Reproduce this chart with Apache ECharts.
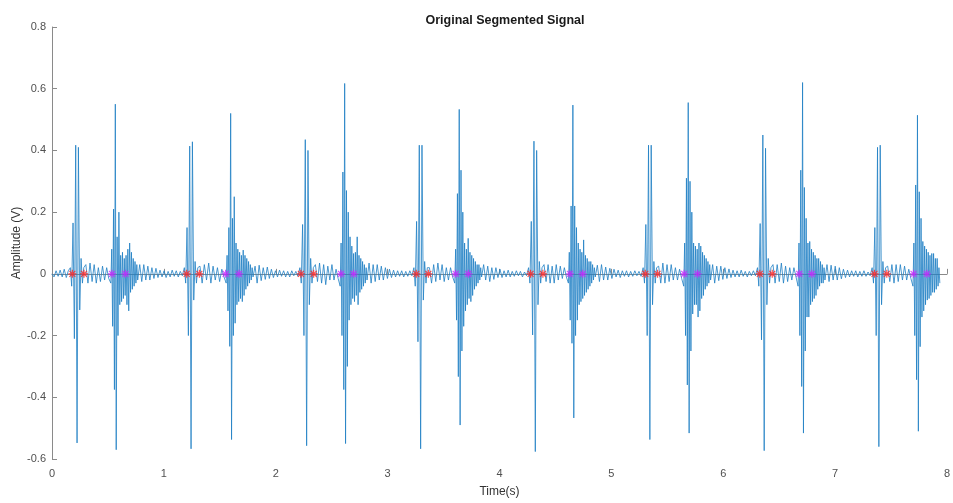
<!DOCTYPE html>
<html>
<head>
<meta charset="utf-8">
<title>Original Segmented Signal</title>
<script src="https://cdn.jsdelivr.net/npm/echarts@6/dist/echarts.min.js"></script>
<style>
  html, body { margin: 0; padding: 0; background: #fff; }
  #chart { width: 953px; height: 503px; }
</style>
</head>
<body>
<div id="chart"></div>
<script>
// sample spacing inside the heart sounds (s)
const s1Step = 0.012;
const s2Step = 0.008;

// start time of each S1 / S2 burst (s)
const s1Start = [0.164, 1.183, 2.216, 3.235, 4.260, 5.284, 6.306, 7.331];
const s2Start = [0.526, 1.557, 2.576, 3.600, 4.616, 5.647, 6.669, 7.696];

// S1 bursts, amplitude (V)
const s1Amp = [
  [0.02, -0.04, 0.165, -0.21, 0.417, -0.548, 0.41, -0.117, 0.05, -0.03, 0.02],
  [0.02, -0.03, 0.15, -0.2, 0.414, -0.567, 0.428, -0.085, 0.04, -0.03, 0.02],
  [0.02, -0.03, 0.16, -0.2, 0.435, -0.557, 0.40, -0.1, 0.05, -0.03, 0.02],
  [0.02, -0.04, 0.17, -0.22, 0.417, -0.567, 0.417, -0.085, 0.04, -0.03, 0.02],
  [0.02, -0.03, 0.17, -0.198, 0.43, -0.576, 0.40, -0.1, 0.04, -0.03, 0.02],
  [0.02, -0.03, 0.16, -0.2, 0.417, -0.537, 0.417, -0.1, 0.04, -0.03, 0.02],
  [0.02, -0.04, 0.163, -0.214, 0.45, -0.573, 0.407, -0.1, 0.05, -0.03, 0.02],
  [0.02, -0.03, 0.15, -0.2, 0.41, -0.56, 0.417, -0.1, 0.04, -0.03, 0.02]
];

// S2 bursts, amplitude (V)
const s2Amp = [
  [-0.03, 0.08, -0.17, 0.21, -0.375, 0.55, -0.57, 0.12, -0.2, 0.2, -0.1, 0.06, -0.09, 0.07, -0.08, 0.05, -0.07, 0.06, -0.1, 0.08, -0.12, 0.1, -0.06, 0.07, -0.05, 0.05, -0.04, 0.04, -0.03, 0.03, -0.02],
  [-0.03, 0.06, -0.12, 0.15, -0.235, 0.52, -0.537, 0.18, -0.2, 0.25, -0.16, 0.1, -0.1, 0.08, -0.09, 0.07, -0.08, 0.06, -0.09, 0.077, -0.07, 0.06, -0.05, 0.05, -0.04, 0.04, -0.03, 0.03, -0.02, 0.02, -0.01],
  [-0.04, 0.1, -0.2, 0.33, -0.375, 0.617, -0.55, 0.27, -0.3, 0.2, -0.15, 0.12, -0.1, 0.09, -0.08, 0.066, -0.09, 0.07, -0.07, 0.12, -0.1, 0.06, -0.06, 0.05, -0.05, 0.04, -0.04, 0.03, -0.03, 0.02, -0.02],
  [-0.03, 0.08, -0.15, 0.26, -0.333, 0.533, -0.49, 0.336, -0.25, 0.2, -0.17, 0.1, -0.12, 0.08, -0.1, 0.115, -0.08, 0.07, -0.09, 0.06, -0.07, 0.05, -0.05, 0.04, -0.04, 0.03, -0.03, 0.03, -0.02, 0.02, -0.01],
  [-0.03, 0.07, -0.15, 0.22, -0.225, 0.547, -0.467, 0.22, -0.2, 0.15, -0.15, 0.1, -0.1, 0.08, -0.09, 0.07, -0.08, 0.11, -0.07, 0.06, -0.06, 0.05, -0.05, 0.04, -0.04, 0.04, -0.03, 0.03, -0.02, 0.02, -0.01],
  [-0.04, 0.1, -0.2, 0.31, -0.36, 0.555, -0.516, 0.3, -0.25, 0.2, -0.13, 0.1, -0.1, 0.09, -0.1, 0.08, -0.14, 0.1, -0.12, 0.09, -0.08, 0.07, -0.07, 0.06, -0.05, 0.05, -0.04, 0.04, -0.03, 0.03, -0.02],
  [-0.04, 0.1, -0.2, 0.336, -0.365, 0.62, -0.516, 0.28, -0.25, 0.18, -0.14, 0.1, -0.14, 0.105, -0.1, 0.08, -0.09, 0.07, -0.08, 0.06, -0.07, 0.05, -0.05, 0.05, -0.04, 0.04, -0.03, 0.03, -0.03, 0.02, -0.02],
  [-0.04, 0.1, -0.2, 0.288, -0.343, 0.514, -0.51, 0.266, -0.236, 0.18, -0.14, 0.105, -0.12, 0.09, -0.1, 0.08, -0.085, 0.07, -0.08, 0.06, -0.07, 0.066, -0.06, 0.066, -0.06, 0.05, -0.05, 0.05, -0.04, 0.02, -0.03]
];

// background wiggle before the first S1, between S1 and S2, and between S2 and the next S1 (V)
const leadAmp = [0.0, -0.01, 0.01, -0.008, 0.012, -0.01, 0.015, -0.012, 0.01];
const sysAmp = [
  [0.03, -0.03, 0.035, -0.025, 0.03, -0.03, 0.02, -0.025, 0.025, -0.02, 0.02, -0.015],
  [0.025, -0.03, 0.03, -0.02, 0.035, -0.03, 0.025, -0.02, 0.02, -0.025, 0.015, -0.01],
  [0.03, -0.025, 0.035, -0.03, 0.03, -0.035, 0.025, -0.02, 0.03, -0.02, 0.015, -0.015],
  [0.02, -0.03, 0.03, -0.025, 0.035, -0.02, 0.03, -0.025, 0.02, -0.02, 0.02, -0.01],
  [0.03, -0.025, 0.03, -0.03, 0.025, -0.03, 0.03, -0.02, 0.025, -0.015, 0.02, -0.01],
  [0.025, -0.03, 0.035, -0.03, 0.03, -0.025, 0.03, -0.02, 0.02, -0.02, 0.015, -0.015],
  [0.03, -0.03, 0.03, -0.025, 0.035, -0.03, 0.025, -0.025, 0.02, -0.02, 0.02, -0.01],
  [0.025, -0.025, 0.03, -0.03, 0.03, -0.025, 0.03, -0.02, 0.025, -0.02, 0.015, -0.015]
];
const diaAmp = [
  [0.03, -0.025, 0.03, -0.02, 0.025, -0.02, 0.02, -0.015, 0.018, -0.012, 0.012, -0.01, 0.01, -0.012, 0.008, -0.01, 0.012, -0.008, 0.01, -0.01, 0.008, -0.006],
  [0.025, -0.03, 0.028, -0.022, 0.02, -0.018, 0.022, -0.015, 0.015, -0.012, 0.01, -0.01, 0.012, -0.008, 0.01, -0.01, 0.008, -0.01, 0.01, -0.006, 0.008, -0.008],
  [0.035, -0.03, 0.03, -0.025, 0.03, -0.02, 0.025, -0.02, 0.02, -0.015, 0.015, -0.012, 0.012, -0.01, 0.01, -0.008, 0.01, -0.01, 0.008, -0.008, 0.01, -0.006],
  [0.03, -0.02, 0.025, -0.025, 0.02, -0.018, 0.02, -0.012, 0.015, -0.012, 0.01, -0.01, 0.012, -0.01, 0.008, -0.008, 0.01, -0.006, 0.008, -0.01, 0.006, -0.006],
  [0.028, -0.025, 0.03, -0.02, 0.022, -0.02, 0.018, -0.015, 0.015, -0.01, 0.012, -0.012, 0.01, -0.008, 0.01, -0.01, 0.008, -0.008, 0.01, -0.006, 0.008, -0.008],
  [0.03, -0.03, 0.025, -0.022, 0.025, -0.018, 0.02, -0.015, 0.016, -0.012, 0.012, -0.01, 0.01, -0.01, 0.012, -0.008, 0.008, -0.01, 0.008, -0.006, 0.01, -0.006],
  [0.03, -0.025, 0.028, -0.02, 0.025, -0.02, 0.02, -0.016, 0.015, -0.012, 0.012, -0.01, 0.01, -0.008, 0.01, -0.01, 0.008, -0.008, 0.01, -0.008, 0.006, -0.006]
];

// segment boundaries found by the segmentation (s)
const s1Marks = [0.182, 0.286, 1.204, 1.317, 2.225, 2.339, 3.256, 3.364, 4.278, 4.388, 5.303, 5.413, 6.327, 6.438, 7.352, 7.462];
const s2Marks = [0.536, 0.656, 1.552, 1.671, 2.583, 2.696, 3.608, 3.721, 4.629, 4.743, 5.651, 5.770, 6.679, 6.792, 7.701, 7.820];

const xTicks = { min: 0, max: 8, step: 1 };
const yTicks = { min: -0.6, max: 0.8, step: 0.2 };

// ---- build the signal ----
function burst(vals, t0, dt) {
  return vals.map((v, i) => [t0 + i * dt, v]);
}
function fill(vals, t0, t1, withStart) {
  const n = withStart ? vals.length : vals.length + 1;
  const dt = (t1 - t0) / n;
  return vals.map((v, i) => [t0 + dt * (withStart ? i : i + 1), v]);
}

let signal = fill(leadAmp, 0, s1Start[0], true);
for (let c = 0; c < s1Start.length; c++) {
  const s1End = s1Start[c] + (s1Amp[c].length - 1) * s1Step;
  const s2End = s2Start[c] + (s2Amp[c].length - 1) * s2Step;
  signal = signal.concat(burst(s1Amp[c], s1Start[c], s1Step));
  signal = signal.concat(fill(sysAmp[c], s1End, s2Start[c]));
  signal = signal.concat(burst(s2Amp[c], s2Start[c], s2Step));
  if (c < diaAmp.length) signal = signal.concat(fill(diaAmp[c], s2End, s1Start[c + 1]));
}

// asterisk marker, like MATLAB's '*'
const star = 'path://M8.5,0h3v20h-3z M0,8.5h20v3h-20z M1.5,3.6l2.1,-2.1l14.9,14.9l-2.1,2.1z M16.4,1.5l2.1,2.1l-14.9,14.9l-2.1,-2.1z';
const font = 'Liberation Sans, Arial, sans-serif';

const chart = echarts.init(document.getElementById('chart'), null, { renderer: 'canvas' });
chart.setOption({
  animation: false,
  backgroundColor: '#fff',
  title: {
    text: 'Original Segmented Signal',
    left: 500,
    textAlign: 'center',
    top: 9,
    textStyle: { fontFamily: font, fontSize: 12.5, fontWeight: 'bold', color: '#1a1a1a' }
  },
  grid: { left: 52, right: 6, top: 27, bottom: 44, containLabel: false, outerBoundsMode: 'none' },
  xAxis: {
    type: 'value',
    min: xTicks.min, max: xTicks.max, interval: xTicks.step,
    name: 'Time(s)',
    nameLocation: 'middle',
    nameGap: 27,
    nameMoveOverlap: false,
    nameTextStyle: { fontFamily: font, fontSize: 12, color: '#333' },
    axisLine: { lineStyle: { color: '#8a8a8a', width: 1 } },
    axisTick: { inside: true, length: 5, lineStyle: { color: '#8a8a8a' } },
    axisLabel: { fontFamily: font, fontSize: 11, color: '#505050', margin: 9 },
    splitLine: { show: false }
  },
  yAxis: {
    type: 'value',
    min: yTicks.min, max: yTicks.max, interval: yTicks.step,
    name: 'Amplitude (V)',
    nameLocation: 'middle',
    nameGap: 29,
    nameMoveOverlap: false,
    nameTextStyle: { fontFamily: font, fontSize: 12, color: '#333' },
    axisLine: { show: true, lineStyle: { color: '#8a8a8a', width: 1 } },
    axisTick: { show: true, inside: true, length: 5, lineStyle: { color: '#8a8a8a' } },
    axisLabel: { fontFamily: font, fontSize: 11, color: '#505050', margin: 6,
      formatter: v => String(+v.toFixed(1)) },
    splitLine: { show: false }
  },
  series: [
    {
      name: 'signal',
      type: 'line',
      data: signal,
      showSymbol: false,
      sampling: null,
      lineStyle: { color: '#1f7fc4', width: 1, opacity: 0.8 },
      z: 2
    },
    {
      name: 'S1 bounds',
      type: 'scatter',
      data: s1Marks.map(t => [t, 0]),
      symbol: star,
      symbolSize: 8,
      itemStyle: { color: '#ff2020' },
      z: 3
    },
    {
      name: 'S2 bounds',
      type: 'scatter',
      data: s2Marks.map(t => [t, 0]),
      symbol: star,
      symbolSize: 8,
      itemStyle: { color: '#cc22ff' },
      z: 3
    }
  ]
});
</script>
</body>
</html>
